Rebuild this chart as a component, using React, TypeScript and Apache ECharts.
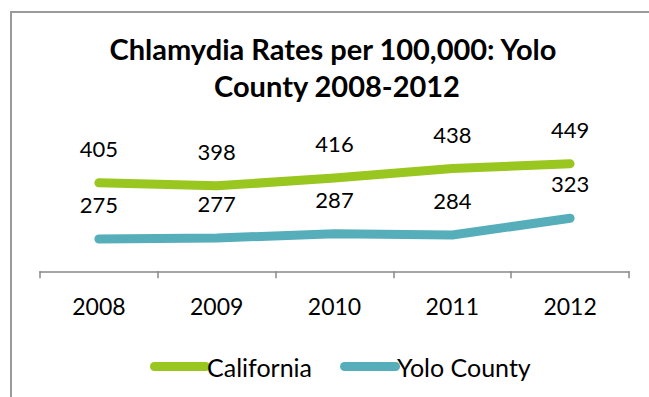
import React, { useEffect, useRef } from "react";
import * as echarts from "echarts";

const categories = ["2008", "2009", "2010", "2011", "2012"];
const californiaRates = [405, 398, 416, 438, 449];
const yoloRates = [275, 277, 287, 284, 323];
const seriesNames = ["California", "Yolo County"];
const titleLines = ["Chlamydia Rates per 100,000: Yolo", "County 2008-2012"];

const GREEN = "#99C61F";
const TEAL = "#55AEB9";
const FONT = "Lato";

export default function App() {
  const ref = useRef<HTMLDivElement>(null);
  useEffect(() => {
    if (!ref.current) return;
    const chart = echarts.init(ref.current, null, { renderer: "svg" });
    const legendIcon =
      "path://M4.5,0 H55.5 A4.5,4.5 0 0 1 55.5,9 H4.5 A4.5,4.5 0 0 1 4.5,0 Z";
    const labelStyle = () => ({
      show: true,
      position: "top" as const,
      distance: 23,
      color: "#000",
      fontFamily: FONT,
      fontSize: 22,
      lineHeight: 22,
    });
    chart.setOption({
      animation: false,
      backgroundColor: "#fff",
      graphic: [
        {
          type: "rect",
          shape: { x: 11, y: 12, width: 800, height: 600 },
          style: { fill: "none", stroke: "#9a9a9a", lineWidth: 2 },
          silent: true,
        },
        {
          type: "text",
          x: 333,
          y: 48,
          style: {
            text: titleLines[0],
            fontFamily: FONT,
            fontSize: 29,
            fontWeight: "bold",
            fill: "#000",
            textAlign: "center",
            textVerticalAlign: "middle",
          },
        },
        {
          type: "text",
          x: 337,
          y: 85,
          style: {
            text: titleLines[1],
            fontFamily: FONT,
            fontSize: 29,
            fontWeight: "bold",
            fill: "#000",
            textAlign: "center",
            textVerticalAlign: "middle",
          },
        },
      ],
      legend: {
        left: 145,
        top: 349,
        itemWidth: 60,
        itemHeight: 9,
        itemGap: 28,
        icon: legendIcon,
        textStyle: {
          fontFamily: FONT,
          fontSize: 25,
          color: "#000",
          padding: [0, 0, 0, -8],
          lineHeight: 25,
        },
        data: seriesNames,
      },
      grid: {
        left: 40,
        right: 20,
        top: 141.8,
        bottom: 125.7,
        containLabel: false,
      },
      xAxis: {
        type: "category",
        data: categories,
        boundaryGap: true,
        axisLine: { show: true, lineStyle: { color: "#888", width: 1.5 } },
        axisTick: { show: true, length: 7, lineStyle: { color: "#888", width: 1.5 } },
        axisLabel: {
          margin: 23,
          color: "#000",
          fontFamily: FONT,
          fontSize: 23,
          lineHeight: 23,
        },
        splitLine: { show: false },
      },
      yAxis: {
        type: "value",
        min: 200,
        max: 500,
        show: false,
        splitLine: { show: false },
      },
      series: [
        {
          name: seriesNames[0],
          type: "line",
          data: californiaRates,
          symbol: "circle",
          symbolSize: 1,
          showSymbol: true,
          color: GREEN,
          itemStyle: { color: GREEN },
          lineStyle: { width: 9, color: GREEN, cap: "round", join: "round" },
          label: labelStyle(),
        },
        {
          name: seriesNames[1],
          type: "line",
          data: yoloRates,
          symbol: "circle",
          symbolSize: 1,
          showSymbol: true,
          color: TEAL,
          itemStyle: { color: TEAL },
          lineStyle: { width: 9, color: TEAL, cap: "round", join: "round" },
          label: labelStyle(),
        },
      ],
    });
    return () => chart.dispose();
  }, []);
  return (
    <div
      ref={ref}
      style={{ position: "fixed", left: 0, top: 0, width: 649, height: 397 }}
    />
  );
}
